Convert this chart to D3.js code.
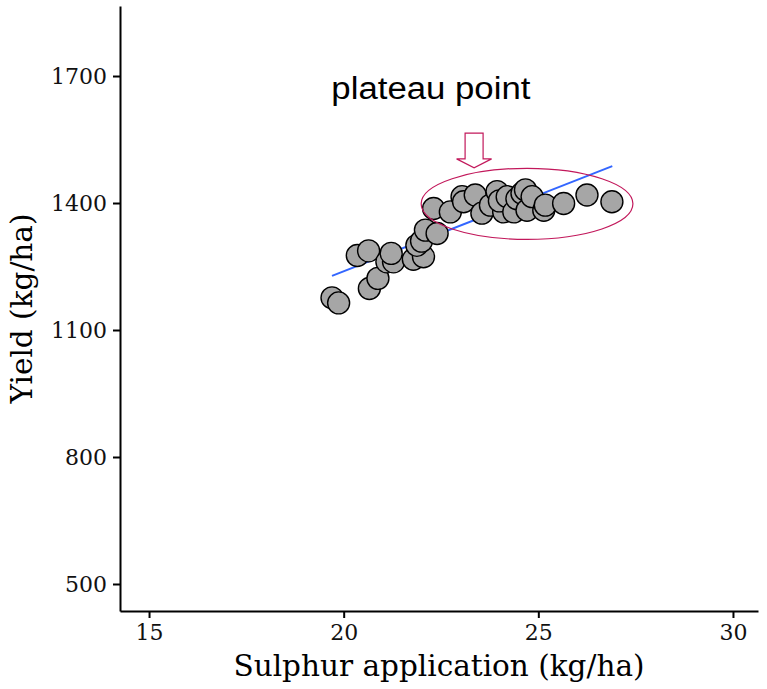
<!DOCTYPE html>
<html>
<head>
<meta charset="utf-8">
<script src="https://cdn.jsdelivr.net/npm/d3@7"></script>
<style>
  body { margin: 0; background: white; }
  .serif { font-family: "DejaVu Serif", serif; }
</style>
</head>
<body>
<svg id="vis"></svg>
<script>
// chart values
const sulphur = [19.70, 19.87, 20.35, 20.64, 20.66, 20.88, 21.11, 21.28, 21.22, 21.79,
                 22.05, 21.88, 22.00, 22.10, 22.40, 22.31, 22.74, 23.04, 23.08, 23.38,
                 23.55, 23.77, 23.94, 24.11, 24.00, 24.20, 24.37, 24.45, 24.58, 24.71,
                 24.67, 24.84, 25.14, 25.18, 25.65, 26.25, 26.89]
const yieldVals = [1176, 1164, 1276, 1287, 1198, 1222, 1261, 1261, 1281, 1267,
                   1273, 1300, 1310, 1336, 1328, 1387, 1379, 1415, 1403, 1419,
                   1376, 1395, 1427, 1379, 1405, 1415, 1379, 1410, 1423, 1383,
                   1431, 1415, 1383, 1395, 1399, 1419, 1403]
const xTicks = [15, 20, 25, 30]
const yTicks = [500, 800, 1100, 1400, 1700]
const fitLine = [[19.70, 1228], [26.90, 1487]]          // linear fit ends
const plateau = {x: 24.71, y: 1398, rx: 2.72, ry: 84}     // ellipse round plateau
const arrow = {x: 23.35, top: 1565, tip: 1483}
const label = {x: 22.24, y: 1645, text: 'plateau point'}

const W = 767, H = 689
const LEFT = 120, RIGHT = 758, TOP = 6, BOTTOM = 611
const ACCENT = '#c2185b'

var svg = d3.select('#vis')
    .attr('width', W)
    .attr('height', H)

var x = d3.scaleLinear().domain([14.254, 30.643]).range([LEFT, RIGHT])
var y = d3.scaleLinear().domain([436.2, 1865.4]).range([BOTTOM, TOP])

// axes
var xAxis = svg.append('g')
    .attr('transform', `translate(0,${BOTTOM})`)
    .call(d3.axisBottom(x).tickValues(xTicks).tickFormat(d3.format('d'))
        .tickSize(7).tickPadding(5).tickSizeOuter(0))
var yAxis = svg.append('g')
    .attr('transform', `translate(${LEFT},0)`)
    .call(d3.axisLeft(y).tickValues(yTicks).tickFormat(d3.format('d'))
        .tickSize(7).tickPadding(6).tickSizeOuter(0))

for (const g of [xAxis, yAxis]) {
    g.select('.domain').attr('stroke', 'black').attr('stroke-width', 2)
    g.selectAll('.tick line').attr('stroke', 'black').attr('stroke-width', 2)
    g.selectAll('.tick text')
        .attr('class', 'serif')
        .attr('font-size', 22)
        .attr('fill', '#111')
}
xAxis.selectAll('.tick text').attr('dy', '0.75em')
yAxis.selectAll('.tick text').attr('dy', '0.36em')

// axis titles
svg.append('text')
    .attr('class', 'serif')
    .attr('x', (LEFT + RIGHT) / 2)
    .attr('y', 676)
    .attr('text-anchor', 'middle')
    .attr('font-size', 29.5)
    .text('Sulphur application (kg/ha)')

svg.append('text')
    .attr('class', 'serif')
    .attr('transform', `translate(32,${(TOP + BOTTOM) / 2}) rotate(-90)`)
    .attr('text-anchor', 'middle')
    .attr('font-size', 29.5)
    .text('Yield (kg/ha)')

// fitted line
svg.append('line')
    .attr('x1', x(fitLine[0][0]))
    .attr('y1', y(fitLine[0][1]))
    .attr('x2', x(fitLine[1][0]))
    .attr('y2', y(fitLine[1][1]))
    .attr('stroke', '#3366ff')
    .attr('stroke-width', 2)

// points
svg.append('g')
    .selectAll('circle')
    .data(sulphur)
    .join('circle')
    .attr('cx', (d) => x(d))
    .attr('cy', (d, i) => y(yieldVals[i]))
    .attr('r', 11)
    .attr('fill', '#a6a6a6')
    .attr('stroke', 'black')
    .attr('stroke-width', 1.4)

// ellipse round the plateau
svg.append('ellipse')
    .attr('cx', x(plateau.x))
    .attr('cy', y(plateau.y))
    .attr('rx', x(plateau.x + plateau.rx) - x(plateau.x))
    .attr('ry', y(plateau.y) - y(plateau.y + plateau.ry))
    .attr('fill', 'none')
    .attr('stroke', ACCENT)
    .attr('stroke-width', 1.2)

// hollow arrow pointing down
var ax = x(arrow.x), aTop = y(arrow.top), aTip = y(arrow.tip)
var neck = aTip - 9
svg.append('path')
    .attr('d', `M${ax - 9},${aTop} L${ax + 9},${aTop} L${ax + 9},${neck} L${ax + 17.5},${neck}
                L${ax},${aTip} L${ax - 17.5},${neck} L${ax - 9},${neck} Z`)
    .attr('fill', 'white')
    .attr('stroke', ACCENT)
    .attr('stroke-width', 1.2)

// annotation label
svg.append('text')
    .attr('x', x(label.x))
    .attr('y', y(label.y))
    .attr('text-anchor', 'middle')
    .attr('font-family', '"Liberation Sans", Arial, sans-serif')
    .attr('font-size', 31)
    .attr('textLength', 199)
    .attr('lengthAdjust', 'spacingAndGlyphs')
    .text(label.text)
</script>
</body>
</html>
